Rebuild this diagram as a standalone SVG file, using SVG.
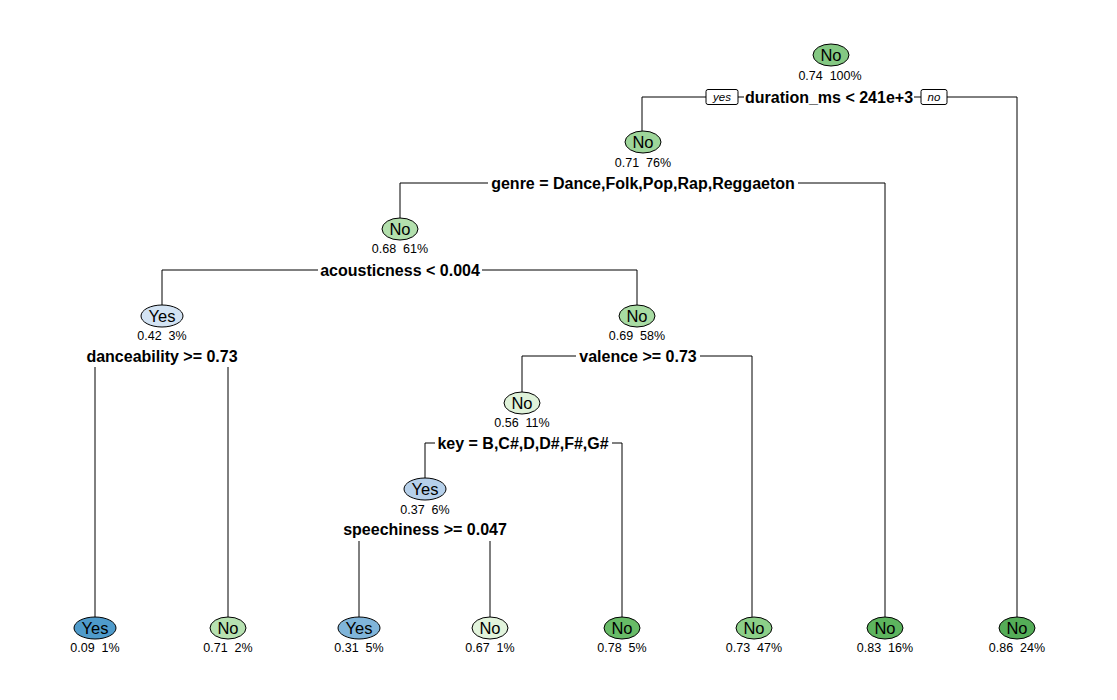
<svg xmlns="http://www.w3.org/2000/svg" width="1117" height="700" viewBox="0 0 1117 700" xml:space="preserve">
<style>
.e{stroke:#000;stroke-width:1}
text{white-space:pre}
.lab{font-family:"Liberation Sans",Arial,sans-serif;font-size:16.5px;text-anchor:middle;fill:#000}
.st{font-family:"Liberation Sans",Arial,sans-serif;font-size:12.5px;text-anchor:middle;fill:#000}
.sp{font-family:"Liberation Sans",Arial,sans-serif;font-size:16px;font-weight:bold;text-anchor:middle;fill:#000}
.bg{fill:#fff}
.yn{font-family:"Liberation Sans",Arial,sans-serif;font-size:11.5px;font-style:italic;text-anchor:middle;fill:#000}
.box{fill:#fff;stroke:#000;stroke-width:1}
#edges path{fill:none;stroke:#000;stroke-width:1}
</style>
<rect width="1117" height="700" fill="#fff"/>
<g id="edges">
<path d="M642 131V97H1017V617"/>
<path d="M400 218V183H885V617"/>
<path d="M162 305V270H637V305"/>
<path d="M95 617V356H228V617"/>
<path d="M522 392V356H752V617"/>
<path d="M425 478V443H622V617"/>
<path d="M359 617V529H490V617"/>
</g>
<g id="n1">
<ellipse class="e" cx="831" cy="55" rx="18" ry="11" fill="#84c883"/>
<text class="lab" x="831" y="61">No</text>
<text class="st" x="830" y="80">0.74  100%</text>
<rect class="bg" x="744" y="87" width="170" height="20"/>
<text class="sp" x="829" y="103">duration_ms &lt; 241e+3</text>
<rect class="box" x="706" y="89.5" width="32" height="15" rx="2"/>
<text class="yn" x="722" y="101">yes</text>
<rect class="box" x="921" y="89.5" width="26" height="15" rx="2"/>
<text class="yn" x="934" y="101">no</text>
</g>
<g id="n2">
<ellipse class="e" cx="643" cy="142" rx="18" ry="11" fill="#9ed69a"/>
<text class="lab" x="643" y="148">No</text>
<text class="st" x="643" y="167">0.71  76%</text>
<rect class="bg" x="488" y="173" width="310" height="20"/>
<text class="sp" x="643" y="189">genre = Dance,Folk,Pop,Rap,Reggaeton</text>
</g>
<g id="n3">
<ellipse class="e" cx="400" cy="229" rx="18" ry="11" fill="#b3e0ad"/>
<text class="lab" x="400" y="235">No</text>
<text class="st" x="400" y="253">0.68  61%</text>
<rect class="bg" x="318" y="260" width="164" height="20"/>
<text class="sp" x="400" y="276">acousticness &lt; 0.004</text>
</g>
<g id="n4">
<ellipse class="e" cx="162" cy="316" rx="21" ry="11" fill="#d3e3f3"/>
<text class="lab" x="162" y="322">Yes</text>
<text class="st" x="162" y="340">0.42  3%</text>
<rect class="bg" x="82" y="346" width="160" height="21"/>
<text class="sp" x="162" y="362">danceability &gt;= 0.73</text>
</g>
<g id="n5">
<ellipse class="e" cx="637" cy="316" rx="18" ry="11" fill="#a8dba3"/>
<text class="lab" x="637" y="322">No</text>
<text class="st" x="637" y="340">0.69  58%</text>
<rect class="bg" x="576" y="346" width="124" height="20"/>
<text class="sp" x="638" y="362">valence &gt;= 0.73</text>
</g>
<g id="n6">
<ellipse class="e" cx="522" cy="403" rx="18" ry="11" fill="#dff2d9"/>
<text class="lab" x="522" y="409">No</text>
<text class="st" x="522" y="427">0.56  11%</text>
<rect class="bg" x="435" y="433" width="177" height="20"/>
<text class="sp" x="523" y="449">key = B,C#,D,D#,F#,G#</text>
</g>
<g id="n7">
<ellipse class="e" cx="425" cy="489" rx="21" ry="11" fill="#b6d0ea"/>
<text class="lab" x="425" y="495">Yes</text>
<text class="st" x="425" y="514">0.37  6%</text>
<rect class="bg" x="338" y="519" width="174" height="22"/>
<text class="sp" x="425" y="535">speechiness &gt;= 0.047</text>
</g>
<g id="l1">
<ellipse class="e" cx="95" cy="628" rx="21" ry="11" fill="#4f9bcb"/>
<text class="lab" x="95" y="634">Yes</text>
<text class="st" x="95" y="652">0.09  1%</text>
</g>
<g id="l2">
<ellipse class="e" cx="228" cy="628" rx="18" ry="11" fill="#b7e2b1"/>
<text class="lab" x="228" y="634">No</text>
<text class="st" x="228" y="652">0.71  2%</text>
</g>
<g id="l3">
<ellipse class="e" cx="359" cy="628" rx="21" ry="11" fill="#80b5da"/>
<text class="lab" x="359" y="634">Yes</text>
<text class="st" x="359" y="652">0.31  5%</text>
</g>
<g id="l4">
<ellipse class="e" cx="490" cy="628" rx="18" ry="11" fill="#e2f4dc"/>
<text class="lab" x="490" y="634">No</text>
<text class="st" x="490" y="652">0.67  1%</text>
</g>
<g id="l5">
<ellipse class="e" cx="622" cy="628" rx="18" ry="11" fill="#68bb67"/>
<text class="lab" x="622" y="634">No</text>
<text class="st" x="622" y="652">0.78  5%</text>
</g>
<g id="l6">
<ellipse class="e" cx="754" cy="628" rx="18" ry="11" fill="#8ccf88"/>
<text class="lab" x="754" y="634">No</text>
<text class="st" x="754" y="652">0.73  47%</text>
</g>
<g id="l7">
<ellipse class="e" cx="885" cy="628" rx="18" ry="11" fill="#5db45e"/>
<text class="lab" x="885" y="634">No</text>
<text class="st" x="885" y="652">0.83  16%</text>
</g>
<g id="l8">
<ellipse class="e" cx="1017" cy="628" rx="18" ry="11" fill="#55ad58"/>
<text class="lab" x="1017" y="634">No</text>
<text class="st" x="1017" y="652">0.86  24%</text>
</g>
</svg>
